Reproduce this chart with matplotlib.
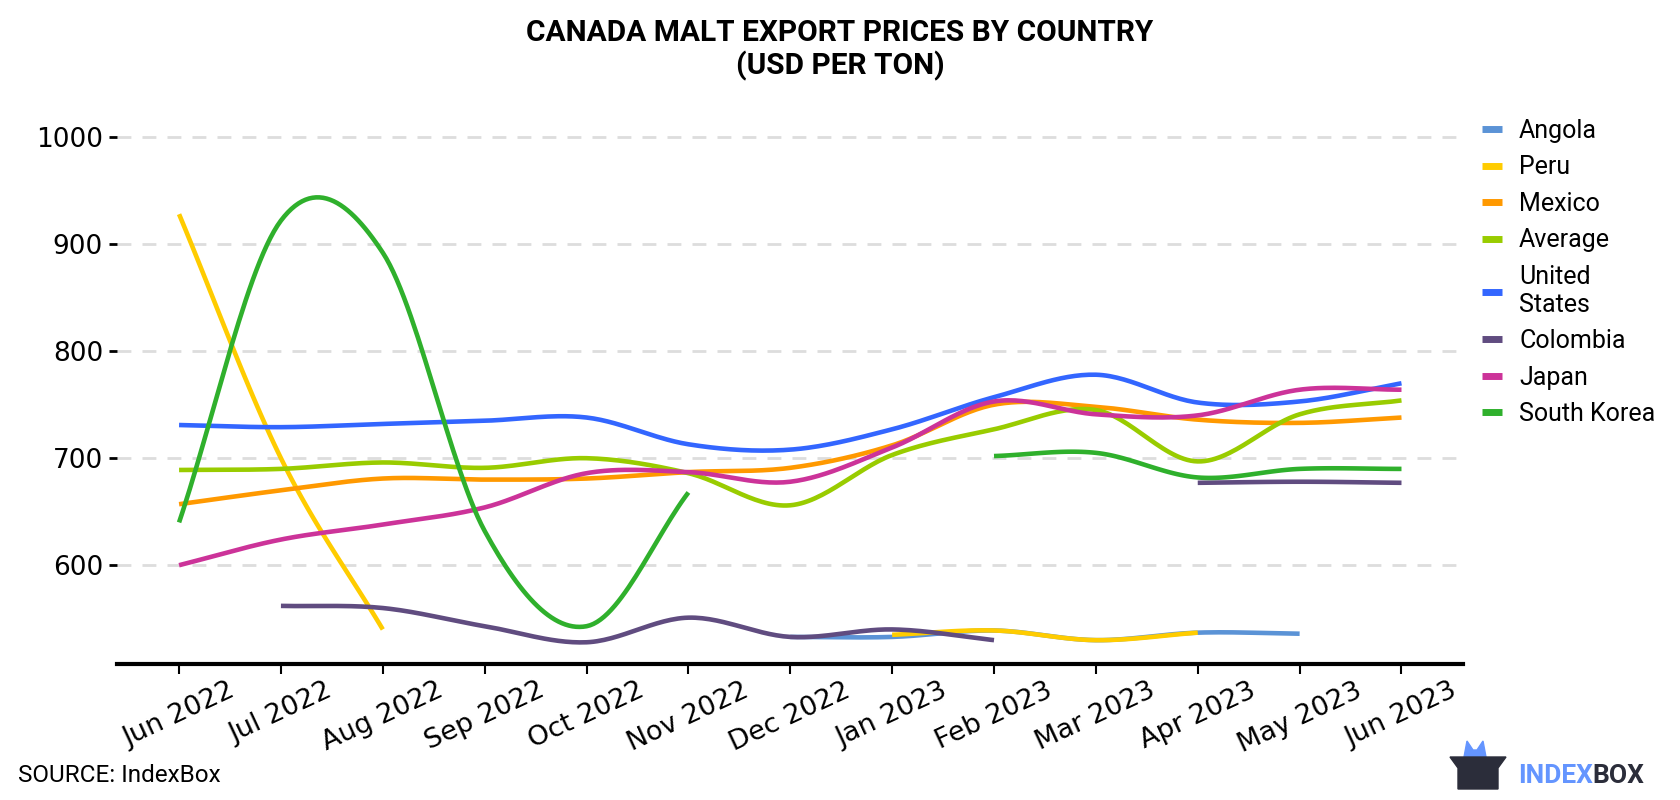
import numpy as np
import pandas as pd
import matplotlib.pyplot as plt
from matplotlib.patches import Polygon

nan = np.nan

# Місяці: червень 2022 - червень 2023
months = pd.date_range('2022-06-01', periods=13, freq='MS')
tick_labels = [m.strftime('%b %Y') for m in months]

angola = [nan, nan, nan, nan, nan, nan, 533, 533, 539, 530, 537, 536, nan]
peru = [928, 700, 540, nan, nan, nan, nan, 535, 539, 530, 537, nan, nan]
mexico = [657, 670, 681, 680, 681, 687, 691, 712, 750, 748, 736, 733, 738]
average = [689, 690, 696, 691, 700, 686, 656, 703, 727, 745, 697, 741, 754]
united_states = [731, 729, 732, 735, 738, 713, 708, 727, 757, 778, 752, 753, 770]
colombia = [nan, 562, 560, 543, 528, 551, 533, 540, 530, nan, 677, 678, 677]
japan = [600, 624, 638, 654, 686, 687, 678, 710, 753, 741, 740, 764, 764]
south_korea = [640, 922, 892, 632, 543, 668, nan, nan, 702, 705, 682, 690, 690]

series = [
    ('Angola', angola, '#5b93d6'),
    ('Peru', peru, '#ffcc00'),
    ('Mexico', mexico, '#ff9900'),
    ('Average', average, '#99cc00'),
    ('United\nStates', united_states, '#3366ff'),
    ('Colombia', colombia, '#604c80'),
    ('Japan', japan, '#cc3399'),
    ('South Korea', south_korea, '#2fb02c'),
]


# Згладжування лінії (Catmull-Rom) для кожного безперервного відрізка
def smooth_runs(x, y, n=30):
    x = np.asarray(x, float)
    y = np.asarray(y, float)
    ok = ~np.isnan(y)
    runs = []
    i = 0
    while i < len(y):
        if ok[i]:
            j = i
            while j + 1 < len(y) and ok[j + 1]:
                j += 1
            runs.append((i, j))
            i = j + 1
        else:
            i += 1
    out = []
    for a, b in runs:
        xs, ys = x[a:b + 1], y[a:b + 1]
        if len(xs) < 2:
            continue
        if len(xs) == 2:
            out.append((xs, ys))
            continue
        px = np.concatenate([[2 * xs[0] - xs[1]], xs, [2 * xs[-1] - xs[-2]]])
        py = np.concatenate([[2 * ys[0] - ys[1]], ys, [2 * ys[-1] - ys[-2]]])
        t = np.linspace(0, 1, n)
        cx, cy = [], []
        for k in range(1, len(px) - 2):
            for p, c in ((px, cx), (py, cy)):
                p0, p1, p2, p3 = p[k - 1], p[k], p[k + 1], p[k + 2]
                c.extend(0.5 * (2 * p1 + (-p0 + p2) * t
                                + (2 * p0 - 5 * p1 + 4 * p2 - p3) * t ** 2
                                + (-p0 + 3 * p1 - 3 * p2 + p3) * t ** 3))
        out.append((np.array(cx), np.array(cy)))
    return out


fig = plt.figure(figsize=(16.8, 8), dpi=100)
ax = fig.add_axes([0.0696, 0.1704, 0.801, 0.7117])

x = np.arange(len(months))
for name, vals, color in series:
    first = True
    for sx, sy in smooth_runs(x, vals):
        ax.plot(sx, sy, color=color, lw=3.3, solid_capstyle='butt',
                label=name if first else None)
        first = False

ax.set_xlim(-0.61, 12.6)
ax.set_ylim(508, 1040)
ax.set_yticks([600, 700, 800, 900, 1000])
ax.set_xticks(x)
ax.set_xticklabels(tick_labels, rotation=25, fontsize=19.5, family='DejaVu Sans')
ax.tick_params(axis='y', labelsize=19, length=6, width=2, pad=4)
ax.tick_params(axis='x', length=7, width=1.5, pad=3)
for lbl in ax.get_yticklabels():
    lbl.set_family('DejaVu Sans')
ax.grid(axis='y', color='#dddddd', lw=2, ls=(0, (5, 4)))
ax.set_axisbelow(True)
for s in ['top', 'right', 'left']:
    ax.spines[s].set_visible(False)
ax.spines['bottom'].set_linewidth(3)

leg = ax.legend(loc='upper left', bbox_to_anchor=(0.8685, 0.8795), bbox_transform=fig.transFigure,
                frameon=False, prop={'family': 'Roboto', 'size': 18},
                handlelength=0.8, handletextpad=0.7, labelspacing=0.5)
for h in leg.get_lines():
    h.set_linewidth(5)

fig.text(0.5, 0.938, 'CANADA MALT EXPORT PRICES BY COUNTRY\n(USD PER TON)', ha='center', va='center',
         fontsize=21.5, fontweight='bold', family='Roboto', linespacing=1.17)
fig.text(0.011, 0.03, 'SOURCE: IndexBox', fontsize=17.5, family='Roboto', va='center')

# Логотип IndexBox
box = Polygon([[1450, 757], [1506, 757], [1498, 768], [1498, 789], [1458, 789], [1458, 768]],
              closed=True, color='#2b2d3a', transform=None)
ears = Polygon([[1464, 757], [1467, 741], [1473, 750], [1477, 750], [1483, 741], [1486, 757]],
               closed=True, color='#6495ff', transform=None)
box.set_xy(np.array(box.get_xy()) * [1, -1] + [0, 800])
ears.set_xy(np.array(ears.get_xy()) * [1, -1] + [0, 800])
fig.patches.extend([ears, box])
t1 = fig.text(0.9035, 0.03, 'INDEX', color='#6495ff', fontsize=19, fontweight='bold', family='Roboto', va='center')
fig.canvas.draw()
bb = t1.get_window_extent()
fig.text(bb.x1 / fig.bbox.width, 0.03, 'BOX', color='#2b2d3a', fontsize=19, fontweight='bold',
         family='Roboto', va='center')

fig.savefig('out.png', dpi=100)
